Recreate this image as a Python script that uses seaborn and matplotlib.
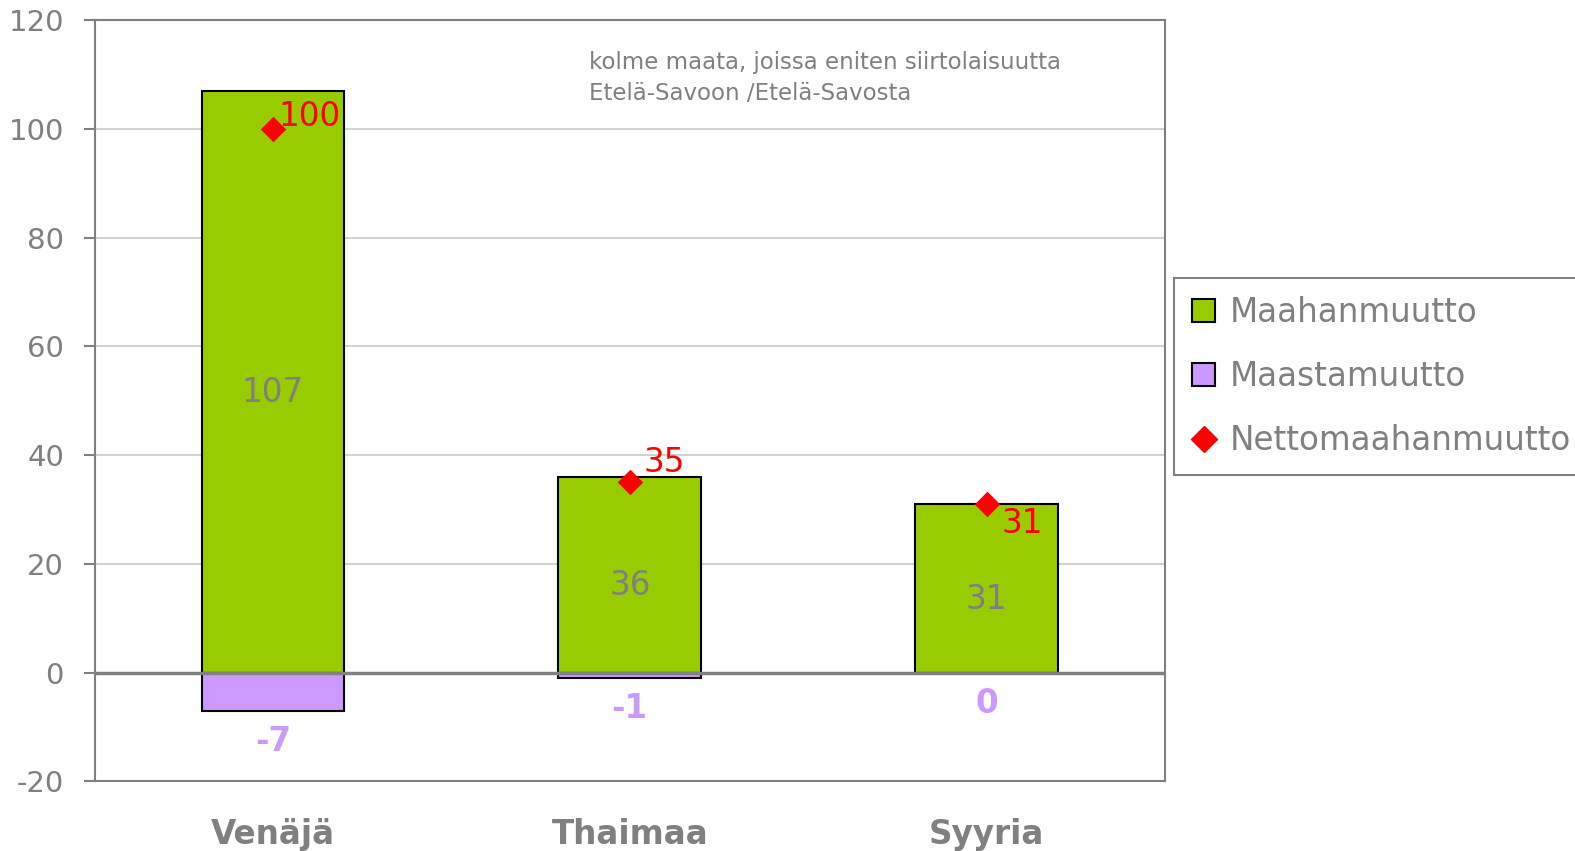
import matplotlib
matplotlib.use("Agg")
import matplotlib.pyplot as plt
from matplotlib.patches import Patch
from matplotlib.lines import Line2D
import numpy as np
import pandas as pd
import seaborn as sns

# data
countries = ["Venäjä", "Thaimaa", "Syyria"]
immigration = [107, 36, 31]      # Maahanmuutto
emigration = [-7, -1, 0]         # Maastamuutto
net = [100, 35, 31]              # Nettomaahanmuutto
yticks = [-20, 0, 20, 40, 60, 80, 100, 120]
legend_labels = ["Maahanmuutto", "Maastamuutto", "Nettomaahanmuutto"]
note = "kolme maata, joissa eniten siirtolaisuutta\nEtelä-Savoon /Etelä-Savosta"

# label offsets (points) for the red net labels
net_offsets = [(4, 9), (10, 14), (11, -14)]

GREEN = "#99CC00"
PURPLE = "#CC99FF"
RED = "#FF0000"
GREY = "#808080"

sns.set_theme(style="white")
plt.rcParams["font.family"] = ["DejaVu Sans"]
plt.rcParams["axes.unicode_minus"] = False

df = pd.DataFrame({"country": countries, "imm": immigration, "emi": emigration})

fig = plt.figure(figsize=(15.75, 8.51), dpi=100)
ax = fig.add_axes([0.06, 0.0817, 0.6797, 0.8947])

# grid lines behind the bars
for t in yticks:
    if t != 0:
        ax.axhline(t, color="#C8C8C8", lw=1.2, zorder=0)

sns.barplot(data=df, x="country", y="imm", color=GREEN, width=0.4,
            edgecolor="black", linewidth=1.5, saturation=1, ax=ax, zorder=2)
sns.barplot(data=df, x="country", y="emi", color=PURPLE, width=0.4,
            edgecolor="black", linewidth=1.5, saturation=1, ax=ax, zorder=2)

ax.axhline(0, color=GREY, lw=2.5, zorder=3)

xs = np.arange(len(countries))
ax.scatter(xs, net, marker="D", s=13 ** 2, color=RED, zorder=5, linewidths=0)

for i, (v_in, v_out, v_net) in enumerate(zip(immigration, emigration, net)):
    ax.annotate(str(v_in), (i, v_in / 2), xytext=(0, -8), textcoords="offset points",
                ha="center", va="center", fontsize=23.5, color=GREY, zorder=6)
    ax.annotate(str(v_out), (i, v_out), xytext=(0, -22), textcoords="offset points",
                ha="center", va="center", fontsize=23.5, fontweight="bold",
                color=PURPLE, zorder=6)
    ax.annotate(str(v_net), (i, v_net), xytext=net_offsets[i],
                textcoords="offset points", ha="left", va="center",
                fontsize=23.5, color=RED, zorder=6)

ax.text(0.4615, 0.96, note, transform=ax.transAxes, ha="left", va="top",
        fontsize=16.5, color=GREY, linespacing=1.45)

ax.set_xlim(-0.5, 2.5)
ax.set_ylim(-20, 120)
ax.set_yticks(yticks)
ax.set_xlabel("")
ax.set_ylabel("")
ax.tick_params(axis="y", length=8, width=1.5, color=GREY, pad=14,
               labelsize=21, labelcolor=GREY, left=True)
ax.tick_params(axis="x", length=0, pad=26, labelsize=23.5, labelcolor=GREY)
for lab in ax.get_xticklabels():
    lab.set_fontweight("bold")
for sp in ax.spines.values():
    sp.set_color(GREY)
    sp.set_linewidth(1.5)

handles = [
    Patch(facecolor=GREEN, edgecolor="black", linewidth=1.5),
    Patch(facecolor=PURPLE, edgecolor="black", linewidth=1.5),
    Line2D([], [], marker="D", color=RED, linestyle="none", markersize=13),
]
leg = fig.legend(handles, legend_labels, loc="upper left",
                 bbox_to_anchor=(0.7455, 0.673), fontsize=23.5, frameon=True,
                 fancybox=False, framealpha=1, edgecolor=GREY,
                 labelspacing=0.95, handlelength=0.7, handleheight=0.7,
                 handletextpad=0.45, borderpad=0.55, borderaxespad=0)
leg.get_frame().set_linewidth(1.5)
for t in leg.get_texts():
    t.set_color(GREY)

fig.savefig("out.png", dpi=100)
